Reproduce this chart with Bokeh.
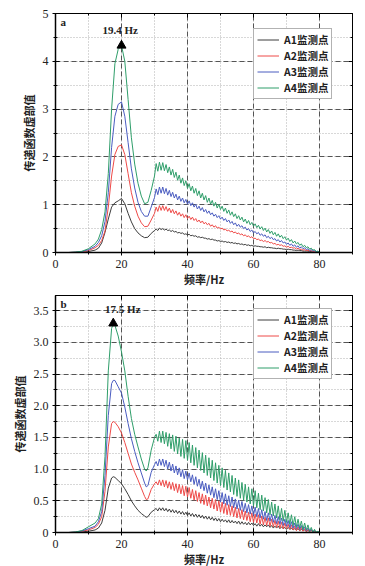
import numpy as np
from bokeh.plotting import figure
from bokeh.layouts import column
from bokeh.models import (Range1d, SingleIntervalTicker, LinearAxis, Legend, LegendItem,
                          CustomJSTickFormatter, Label)
from bokeh.embed import file_html
from bokeh.resources import INLINE

# ---------------- data ----------------
SERIES = ["A1监测点", "A2监测点", "A3监测点", "A4监测点"]
COLORS = ["#3c3c3c", "#ee4a48", "#4a5cc0", "#2f9e6a"]

# panel a : smooth part (0-30 Hz)
xs_a = [0, 4, 6, 8, 10, 12, 13, 14, 15, 16, 17, 18, 19, 20, 21, 22, 23, 24, 25, 26, 27, 28, 29, 30]
a1_s = [0, 0, 0.003, 0.008, 0.02, 0.05, 0.09, 0.2, 0.42, 0.7, 0.95, 1.04, 1.08, 1.13, 1.02, 0.82, 0.64, 0.5, 0.41, 0.35, 0.31, 0.32, 0.4, 0.46]
a2_s = [0, 0, 0.005, 0.015, 0.04, 0.1, 0.15, 0.25, 0.45, 0.95, 1.6, 2.05, 2.22, 2.25, 2.05, 1.65, 1.25, 0.97, 0.76, 0.62, 0.54, 0.55, 0.68, 0.82]
a3_s = [0, 0, 0.006, 0.02, 0.06, 0.13, 0.21, 0.35, 0.65, 1.25, 2.2, 2.85, 3.1, 3.15, 2.85, 2.3, 1.75, 1.35, 1.05, 0.86, 0.76, 0.76, 0.95, 1.15]
a4_s = [0, 0, 0.008, 0.025, 0.08, 0.18, 0.28, 0.48, 0.85, 1.65, 3.0, 3.95, 4.25, 4.33, 4.0, 3.2, 2.4, 1.85, 1.45, 1.18, 1.02, 1.05, 1.3, 1.6]

# panel a : ripple peaks (30.5 ... 79.5 Hz) and troughs (31 ... 80 Hz)
a1_p = [0.49, 0.51, 0.50, 0.49, 0.47, 0.46, 0.44, 0.42, 0.41, 0.39,
        0.38, 0.36, 0.35, 0.33, 0.32, 0.30, 0.29, 0.28, 0.26, 0.25,
        0.24, 0.23, 0.22, 0.21, 0.20, 0.19, 0.18, 0.17, 0.16, 0.15,
        0.14, 0.13, 0.12, 0.12, 0.11, 0.10, 0.09, 0.09, 0.08, 0.07,
        0.07, 0.06, 0.05, 0.05, 0.04, 0.03, 0.03, 0.02, 0.01, 0.01]
a1_t = [0.46, 0.48, 0.47, 0.46, 0.44, 0.43, 0.41, 0.40, 0.38, 0.37,
        0.35, 0.34, 0.32, 0.31, 0.30, 0.28, 0.27, 0.26, 0.24, 0.23,
        0.22, 0.21, 0.20, 0.19, 0.18, 0.17, 0.16, 0.15, 0.14, 0.13,
        0.13, 0.12, 0.11, 0.10, 0.10, 0.09, 0.08, 0.08, 0.07, 0.06,
        0.06, 0.05, 0.04, 0.04, 0.03, 0.03, 0.02, 0.01, 0.01, 0.00]
a2_p = [0.95, 0.98, 0.98, 0.96, 0.93, 0.90, 0.87, 0.84, 0.81, 0.79,
        0.76, 0.74, 0.71, 0.68, 0.66, 0.63, 0.61, 0.58, 0.56, 0.53,
        0.51, 0.49, 0.47, 0.45, 0.43, 0.41, 0.39, 0.37, 0.35, 0.33,
        0.30, 0.28, 0.26, 0.25, 0.23, 0.21, 0.19, 0.17, 0.16, 0.14,
        0.13, 0.11, 0.10, 0.09, 0.07, 0.06, 0.05, 0.04, 0.02, 0.01]
a2_t = [0.86, 0.88, 0.88, 0.86, 0.83, 0.81, 0.78, 0.76, 0.73, 0.71,
        0.69, 0.67, 0.64, 0.62, 0.60, 0.58, 0.55, 0.53, 0.51, 0.49,
        0.47, 0.45, 0.43, 0.41, 0.39, 0.37, 0.35, 0.33, 0.31, 0.29,
        0.27, 0.25, 0.23, 0.22, 0.20, 0.18, 0.16, 0.15, 0.13, 0.11,
        0.10, 0.09, 0.07, 0.06, 0.05, 0.04, 0.03, 0.02, 0.01, 0.00]
a3_p = [1.33, 1.37, 1.37, 1.34, 1.30, 1.26, 1.22, 1.18, 1.14, 1.11,
        1.08, 1.04, 1.01, 0.97, 0.94, 0.90, 0.87, 0.83, 0.80, 0.77,
        0.74, 0.71, 0.68, 0.65, 0.62, 0.59, 0.56, 0.53, 0.50, 0.47,
        0.44, 0.42, 0.39, 0.37, 0.34, 0.32, 0.29, 0.27, 0.25, 0.22,
        0.20, 0.18, 0.16, 0.14, 0.12, 0.10, 0.08, 0.06, 0.04, 0.02]
a3_t = [1.21, 1.24, 1.23, 1.20, 1.17, 1.14, 1.10, 1.07, 1.04, 1.01,
        0.98, 0.95, 0.91, 0.88, 0.85, 0.82, 0.79, 0.76, 0.73, 0.70,
        0.67, 0.64, 0.61, 0.58, 0.55, 0.53, 0.50, 0.47, 0.44, 0.41,
        0.39, 0.36, 0.34, 0.31, 0.29, 0.27, 0.24, 0.22, 0.20, 0.17,
        0.15, 0.13, 0.11, 0.09, 0.08, 0.06, 0.04, 0.03, 0.01, 0.00]
a4_p = [1.86, 1.89, 1.88, 1.84, 1.79, 1.74, 1.68, 1.62, 1.56, 1.50,
        1.44, 1.39, 1.34, 1.29, 1.24, 1.19, 1.14, 1.09, 1.05, 1.01,
        0.97, 0.93, 0.89, 0.85, 0.81, 0.77, 0.74, 0.70, 0.67, 0.63,
        0.60, 0.57, 0.54, 0.51, 0.48, 0.45, 0.42, 0.39, 0.36, 0.33,
        0.30, 0.27, 0.24, 0.21, 0.18, 0.15, 0.12, 0.09, 0.06, 0.03]
a4_t = [1.70, 1.72, 1.71, 1.67, 1.62, 1.57, 1.51, 1.45, 1.40, 1.34,
        1.29, 1.24, 1.19, 1.14, 1.10, 1.05, 1.01, 0.97, 0.93, 0.90,
        0.86, 0.82, 0.78, 0.75, 0.71, 0.68, 0.64, 0.61, 0.58, 0.55,
        0.52, 0.49, 0.46, 0.43, 0.40, 0.37, 0.34, 0.32, 0.29, 0.26,
        0.23, 0.20, 0.18, 0.15, 0.12, 0.10, 0.07, 0.05, 0.02, 0.00]

# panel b : smooth part
xs_b = [0, 4, 6, 8, 10, 12, 13, 14, 15, 16, 17, 17.5, 18, 19, 20, 21, 22, 23, 24, 25, 26, 27, 27.5, 28, 29, 30]
b1_s = [0, 0, 0.003, 0.01, 0.02, 0.04, 0.07, 0.15, 0.35, 0.7, 0.86, 0.88, 0.87, 0.82, 0.77, 0.69, 0.6, 0.5, 0.42, 0.35, 0.3, 0.26, 0.24, 0.25, 0.32, 0.36]
b2_s = [0, 0, 0.005, 0.02, 0.04, 0.08, 0.13, 0.25, 0.65, 1.35, 1.72, 1.75, 1.74, 1.67, 1.57, 1.42, 1.25, 1.08, 0.95, 0.83, 0.7, 0.57, 0.52, 0.53, 0.68, 0.77]
b3_s = [0, 0, 0.006, 0.025, 0.06, 0.1, 0.17, 0.33, 0.9, 1.85, 2.35, 2.4, 2.4, 2.3, 2.2, 1.98, 1.72, 1.48, 1.28, 1.1, 0.94, 0.78, 0.72, 0.74, 0.95, 1.07]
b4_s = [0, 0, 0.008, 0.03, 0.09, 0.15, 0.22, 0.45, 1.2, 2.55, 3.22, 3.3, 3.27, 3.1, 2.85, 2.55, 2.15, 1.8, 1.55, 1.35, 1.16, 1.0, 0.97, 1.02, 1.3, 1.5]

b1_p = [0.38, 0.39, 0.39, 0.38, 0.37, 0.36, 0.35, 0.34, 0.33, 0.32,
        0.31, 0.30, 0.29, 0.28, 0.27, 0.26, 0.25, 0.24, 0.23, 0.22,
        0.21, 0.20, 0.20, 0.19, 0.18, 0.18, 0.17, 0.16, 0.16, 0.15,
        0.14, 0.14, 0.13, 0.12, 0.12, 0.11, 0.10, 0.10, 0.09, 0.08,
        0.08, 0.07, 0.06, 0.06, 0.05, 0.04, 0.03, 0.03, 0.02, 0.01]
b1_t = [0.34, 0.35, 0.34, 0.33, 0.32, 0.31, 0.30, 0.29, 0.28, 0.27,
        0.26, 0.25, 0.24, 0.23, 0.22, 0.21, 0.20, 0.19, 0.18, 0.17,
        0.17, 0.16, 0.15, 0.15, 0.14, 0.13, 0.13, 0.12, 0.12, 0.11,
        0.10, 0.10, 0.09, 0.09, 0.08, 0.07, 0.07, 0.06, 0.06, 0.05,
        0.05, 0.04, 0.04, 0.03, 0.03, 0.02, 0.02, 0.01, 0.01, 0.00]
b2_p = [0.80, 0.83, 0.83, 0.82, 0.80, 0.79, 0.77, 0.76, 0.74, 0.73,
        0.71, 0.68, 0.66, 0.63, 0.61, 0.59, 0.56, 0.54, 0.52, 0.50,
        0.48, 0.46, 0.44, 0.42, 0.40, 0.38, 0.36, 0.34, 0.32, 0.31,
        0.29, 0.28, 0.26, 0.24, 0.23, 0.21, 0.19, 0.18, 0.16, 0.15,
        0.13, 0.12, 0.10, 0.09, 0.08, 0.06, 0.05, 0.04, 0.02, 0.01]
b2_t = [0.75, 0.74, 0.72, 0.70, 0.68, 0.66, 0.63, 0.61, 0.58, 0.56,
        0.54, 0.51, 0.49, 0.46, 0.44, 0.42, 0.39, 0.37, 0.34, 0.32,
        0.30, 0.28, 0.27, 0.25, 0.23, 0.22, 0.20, 0.19, 0.17, 0.16,
        0.15, 0.13, 0.12, 0.11, 0.10, 0.09, 0.08, 0.07, 0.06, 0.06,
        0.05, 0.04, 0.03, 0.03, 0.02, 0.01, 0.01, 0.00, 0.00, 0.00]
b3_p = [1.12, 1.16, 1.16, 1.14, 1.11, 1.08, 1.05, 1.02, 0.99, 0.97,
        0.94, 0.91, 0.88, 0.84, 0.81, 0.78, 0.75, 0.72, 0.69, 0.66,
        0.63, 0.61, 0.58, 0.56, 0.53, 0.51, 0.49, 0.46, 0.44, 0.42,
        0.40, 0.38, 0.36, 0.33, 0.31, 0.29, 0.27, 0.25, 0.23, 0.21,
        0.19, 0.17, 0.15, 0.13, 0.11, 0.09, 0.07, 0.05, 0.03, 0.01]
b3_t = [1.05, 1.06, 1.04, 1.00, 0.97, 0.94, 0.91, 0.88, 0.85, 0.83,
        0.80, 0.76, 0.73, 0.69, 0.66, 0.62, 0.59, 0.55, 0.52, 0.48,
        0.45, 0.43, 0.41, 0.39, 0.37, 0.35, 0.33, 0.31, 0.29, 0.27,
        0.25, 0.23, 0.21, 0.19, 0.18, 0.16, 0.14, 0.13, 0.11, 0.10,
        0.08, 0.07, 0.06, 0.05, 0.04, 0.03, 0.02, 0.01, 0.00, 0.00]
b4_p = [1.55, 1.60, 1.60, 1.58, 1.56, 1.54, 1.52, 1.49, 1.47, 1.45,
        1.42, 1.38, 1.34, 1.30, 1.26, 1.22, 1.18, 1.14, 1.10, 1.06,
        1.02, 0.98, 0.94, 0.90, 0.86, 0.83, 0.79, 0.76, 0.72, 0.69,
        0.66, 0.62, 0.59, 0.55, 0.52, 0.48, 0.45, 0.42, 0.38, 0.35,
        0.31, 0.28, 0.25, 0.21, 0.18, 0.15, 0.12, 0.08, 0.05, 0.02]
b4_t = [1.44, 1.42, 1.40, 1.36, 1.32, 1.28, 1.24, 1.20, 1.17, 1.14,
        1.10, 1.06, 1.02, 0.98, 0.94, 0.90, 0.86, 0.82, 0.78, 0.74,
        0.71, 0.67, 0.64, 0.60, 0.57, 0.54, 0.51, 0.48, 0.45, 0.42,
        0.39, 0.36, 0.34, 0.31, 0.28, 0.26, 0.23, 0.20, 0.18, 0.16,
        0.13, 0.11, 0.09, 0.07, 0.05, 0.04, 0.02, 0.01, 0.00, 0.00]

peak_f = list(np.arange(30.5, 80.0, 1.0))
trough_f = list(np.arange(31.0, 80.5, 1.0))

PEAK_TEXT_A = "19.4 Hz"
PEAK_TEXT_B = "17.5 Hz"

SERIF = "Liberation Serif"
CJK = "Noto Sans CJK SC"


def build(xs, smooth, peaks, troughs):
    x = list(xs)
    y = list(smooth)
    for pf, pv, tf, tv in zip(peak_f, peaks, trough_f, troughs):
        x += [pf, tf]
        y += [pv, tv]
    return x, y


def panel(tag, xs, smooths, peaks_l, troughs_l, ymax, yint, peak_text, text_dx, text_y, tag_xy,
          top, fh, fmt_code):
    p = figure(frame_width=297, frame_height=fh, x_range=Range1d(0, 90), y_range=Range1d(0, ymax),
               output_backend="svg", toolbar_location=None,
               min_border_left=55, min_border_right=13, min_border_top=top, min_border_bottom=0,
               background_fill_color="white", border_fill_color="white")
    p.outline_line_color = "black"
    p.outline_line_width = 1

    xt = SingleIntervalTicker(interval=20, num_minor_ticks=2)
    yt = SingleIntervalTicker(interval=yint, num_minor_ticks=2)
    p.xaxis.ticker = xt
    p.yaxis.ticker = yt
    p.xgrid.ticker = xt
    p.ygrid.ticker = yt
    p.yaxis.formatter = CustomJSTickFormatter(code=fmt_code)

    for g in (p.xgrid, p.ygrid):
        g.grid_line_color = "#555555"
        g.grid_line_dash = "5 3"
        g.grid_line_width = 1
        g.minor_grid_line_color = "#b0b0b0"
        g.minor_grid_line_dash = "1 2"
        g.minor_grid_line_width = 1

    for ax in (p.xaxis[0], p.yaxis[0]):
        ax.axis_line_color = "black"
        ax.axis_line_width = 1.5
        ax.major_tick_in = 4
        ax.major_tick_out = 3
        ax.minor_tick_in = 2
        ax.minor_tick_out = 2
        ax.major_tick_line_color = "black"
        ax.minor_tick_line_color = "black"
        ax.major_label_text_font = SERIF
        ax.major_label_text_font_size = "12px"
        ax.major_label_text_color = "#222222"
        ax.axis_label_text_font = CJK
        ax.axis_label_text_font_size = "11px"
        ax.axis_label_text_font_style = "bold"
        ax.axis_label_text_color = "#222222"
    p.xaxis.major_label_standoff = 4
    p.xaxis.axis_label_standoff = 0
    p.yaxis.major_label_standoff = 4
    p.yaxis.axis_label_standoff = 3
    p.xaxis.axis_label = "频率/Hz"
    p.yaxis.axis_label = "传递函数虚部值"

    for ticker, side in ((yt, "right"), (xt, "above")):
        ax = LinearAxis(ticker=ticker, formatter=CustomJSTickFormatter(code="return ''"))
        ax.major_tick_in = 4
        ax.major_tick_out = 0
        ax.minor_tick_in = 2
        ax.minor_tick_out = 0
        ax.major_label_standoff = 0
        ax.major_label_text_font_size = "1px"
        ax.axis_line_color = "black"
        p.add_layout(ax, side)

    items = []
    last = None
    for name, col, sm, pk, tr in zip(SERIES, COLORS, smooths, peaks_l, troughs_l):
        x, y = build(xs, sm, pk, tr)
        r = p.line(x, y, line_color=col, line_width=1)
        items.append(LegendItem(label=name, renderers=[r]))
        last = (x, y)

    # peak marker on the A4 curve
    x4, y4 = last
    k = int(np.argmax(y4))
    p.scatter([x4[k]], [y4[k]], marker="triangle", size=9, color="black")
    p.add_layout(Label(x=x4[k] + text_dx, y=text_y, text=peak_text, text_align="center",
                       text_baseline="middle", text_font=SERIF, text_font_size="11px",
                       text_font_style="bold", text_color="#222222"))
    p.add_layout(Label(x=tag_xy[0], y=tag_xy[1], text=tag, text_align="left",
                       text_baseline="middle", text_font=SERIF, text_font_size="11px",
                       text_font_style="bold", text_color="#222222"))

    leg = Legend(items=items, location=(198, 153))
    leg.border_line_color = "#666666"
    leg.border_line_width = 1
    leg.background_fill_color = "white"
    leg.background_fill_alpha = 1
    leg.label_text_font = CJK
    leg.label_text_font_size = "10.5px"
    leg.label_text_font_style = "bold"
    leg.label_text_color = "#222222"
    leg.glyph_width = 22
    leg.glyph_height = 13
    leg.label_height = 13
    leg.label_standoff = 5
    leg.spacing = 1
    leg.padding = 3
    leg.margin = 0
    p.add_layout(leg)
    return p


pa = panel("a", xs_a, [a1_s, a2_s, a3_s, a4_s], [a1_p, a2_p, a3_p, a4_p], [a1_t, a2_t, a3_t, a4_t],
           5.0, 1, PEAK_TEXT_A, -0.4, 4.66, (1.5, 4.82), 13, 239,
           "return tick.toFixed(0);")
pb = panel("b", xs_b, [b1_s, b2_s, b3_s, b4_s], [b1_p, b2_p, b3_p, b4_p], [b1_t, b2_t, b3_t, b4_t],
           3.74, 0.5, PEAK_TEXT_B, 2.9, 3.52, (1.5, 3.61), 6, 237,
           "return tick == 0 ? '0' : tick.toFixed(1);")

layout = column(pa, pb, spacing=0)
open("out.html", "w").write(file_html(layout, INLINE))
